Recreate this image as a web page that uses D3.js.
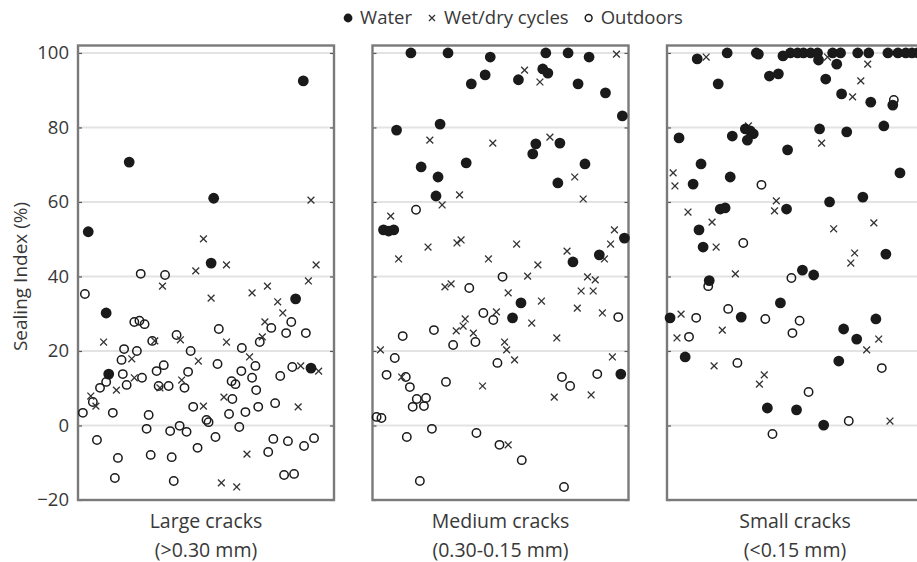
<!DOCTYPE html>
<html>
<head>
<meta charset="utf-8">
<script src="https://cdn.jsdelivr.net/npm/d3@7"></script>
<style>
  body { margin: 0; background: #fff; }
  svg text { font-family: "Open Sans", "Noto Sans", sans-serif; fill: #383838; }
</style>
</head>
<body>
<svg id="chart" width="917" height="562"></svg>
<script>
// Crack-width classes (one panel each) and their size ranges
const crackClasses = ["Large cracks", "Medium cracks", "Small cracks"];
const crackRanges = ["(>0.30 mm)", "(0.30-0.15 mm)", "(<0.15 mm)"];
const seriesNames = ["Water", "Wet/dry cycles", "Outdoors"];
const yTicks = [-20, 0, 20, 40, 60, 80, 100];

// Each specimen: [position within panel (0-100), sealing index %]
const largeWater = [[4,52],[20,70.7],[53,61],[88,92.5],[52,43.6],[11,30.2],[12,13.8],[85,34],[91,15.4]];
const largeWetDry = [[91,60.5],[49,50.1],[46,41.5],[58,43.1],[93,43.1],[90,38.8],[52,34.2],[68,35.6],[74,37.4],[78,33.2],[80,30.2],[73,27.8],[72,23.8],[58,22.4],[67,18.4],[47,17.3],[87,16],[94,14.6],[49,5.2],[57,7.6],[86,5],[66,-7.7],[56,-15.4],[62,-16.5],[33,37.4],[10,22.4],[5,7.9],[7,5.2],[21,17.9],[22,12.8],[15,9.5],[30,22.7],[40,23],[32,10.1],[40.5,12.2]];
const largeOutdoors = [[2.7,35.3],[24.5,40.7],[34,40.4],[22,27.8],[24,28.1],[26,27.2],[29,22.7],[38.5,24.3],[18,20.5],[23,20],[44,20],[17,17.6],[17.5,13.8],[25,12.8],[19,10.9],[8.6,10.1],[11,11.7],[30.7,14.6],[33.5,16.2],[43,14.4],[41.6,10.1],[31.5,10.6],[35.4,10.6],[5.8,6.3],[1.9,3.4],[13.6,3.4],[45,5],[27.6,2.8],[26.8,-0.9],[36,-1.5],[39.7,-0.1],[42.4,-1.7],[7.4,-3.9],[46.7,-6],[15.6,-8.7],[28.4,-7.9],[36.6,-8.5],[14.4,-14.1],[37.4,-14.9],[55,25.9],[75.5,26.2],[83.3,27.8],[81.3,24.8],[89,24.8],[71,22.4],[64,20.8],[54.5,16.5],[69.3,16],[63.8,14.6],[60,11.9],[61.5,11.1],[68,12.8],[69.6,9.5],[83.7,15.7],[79,13.3],[60.3,7.1],[77,6],[70.4,5],[65.4,3.6],[59,3.1],[50.2,1.5],[51,0.9],[63,-0.4],[53.7,-3.1],[76.3,-3.6],[82,-4.2],[88.3,-5.5],[92.2,-3.4],[74.3,-7.1],[80.5,-13.3],[84.4,-13]];

const mediumWater = [[15,100],[29.5,100],[46,98.9],[38.6,91.7],[44,94.1],[9.4,79.3],[26.4,80.9],[19,69.4],[36.6,70.5],[25.6,66.7],[24.8,61.6],[4.3,52.5],[6.3,52.2],[8.3,52.5],[67.7,100],[76.4,100],[84.6,98.9],[66.5,95.7],[68.5,94.6],[57,92.8],[80.3,91.7],[91,89.3],[97.6,83.1],[63.8,75.6],[62.6,72.9],[73.2,75.8],[83,70.2],[72.4,65.1],[98.4,50.3],[88.6,45.8],[78.3,43.9],[58,32.9],[54.7,28.9],[97,13.8]];
const mediumWetDry = [[22.4,76.6],[47,75.8],[34,61.9],[27.2,59.2],[7.1,56.2],[21.7,47.9],[33,49],[34.6,49.8],[10.2,44.7],[45.3,44.7],[95.3,99.7],[59.4,95.4],[65.4,92.2],[69.3,77.4],[79,66.7],[82.3,60.8],[94.5,52.5],[93,48.7],[56.3,48.7],[76,46.8],[64.6,43.1],[90.6,44.7],[60.6,40.1],[84,39.9],[87,39.1],[28.3,37.2],[30.7,38],[53,35.6],[36.2,28.6],[35.4,26.7],[32.7,25.4],[39.4,24.8],[48.4,30.5],[51.6,22.4],[52.4,20.3],[3.1,20.3],[11.4,13],[43,10.6],[81.5,36.1],[86.2,36.1],[66,33.4],[80,31.5],[62.2,27.5],[89.8,30.2],[72,23.5],[55.5,17.6],[93.7,18.4],[71,7.6],[85.4,8.2],[53,-5.2]];
const mediumOutdoors = [[17,57.9],[50.8,39.9],[37.8,36.9],[43.3,30.2],[47.2,28.3],[11.8,24],[24,25.6],[31.5,21.6],[40.2,22.4],[8.7,18.1],[48.8,16.8],[5.5,13.6],[13,13],[14.6,10.3],[28.7,11.7],[17.3,7.1],[20.9,7.4],[15.7,5],[20.1,5.2],[1.6,2.3],[3.5,2],[13.4,-3.1],[23.2,-0.9],[40.6,-2],[49.6,-5.2],[18.5,-14.9],[96,29.1],[74,13],[77.2,10.6],[87.8,13.8],[58.3,-9.3],[74.8,-16.5]];

const smallWater = [[11.8,98.4],[23.5,100],[34.9,100],[35.7,99.7],[45.3,99.2],[48.2,100],[51,100],[53.3,100],[56.1,100],[58.8,100],[59.2,98.1],[64.7,100],[67.8,100],[66.3,97],[74.5,100],[78.8,100],[86.3,100],[90.2,100],[93.3,100],[95.7,100],[98,100],[20,91.7],[40,93.8],[43.5,94.4],[62,93],[68.2,89],[79.6,86.8],[88.2,86],[4.7,77.2],[25.5,77.7],[30.6,79.6],[32.5,79.1],[33.7,78.3],[31.4,76.6],[47.1,74],[59.6,79.6],[70.2,78.8],[84.7,80.4],[13.3,70.2],[10.2,64.8],[24.7,66.7],[46.7,58.1],[20.8,58.1],[22.7,58.4],[12.5,52.5],[14.1,47.9],[16.5,38.9],[91,67.8],[63.5,60],[76.5,61.3],[85.5,46],[52.9,41.7],[57.3,40.4],[1.2,28.9],[7.1,18.4],[29,29.1],[44.3,32.9],[69,25.9],[74.1,23.2],[81.6,28.6],[67.1,17.3],[39.2,4.7],[50.6,4.2],[61.2,0.1]];
const smallWetDry = [[15.3,98.9],[31.8,80.4],[2.4,67.8],[3.1,64.3],[8.2,57.3],[17.6,54.6],[19.2,47.9],[42.7,60.3],[42,57.6],[26.7,40.7],[62.7,98.9],[78.4,97],[75.7,92.5],[72.5,88.2],[60.4,75.8],[65.1,52.8],[80.8,54.4],[73.3,46.3],[71.8,43.6],[5.5,29.9],[3.9,23.5],[21.6,25.6],[18.4,16],[38,13.6],[36.1,11.1],[82.7,23.2],[78,20.3],[87.1,1.2]];
const smallOutdoors = [[36.9,64.6],[29.8,49],[88.6,87.4],[48.6,39.6],[16.1,37.4],[11.4,28.9],[8.6,23.8],[23.9,31.3],[38.4,28.6],[51.8,28.1],[49,24.8],[27.5,16.8],[83.9,15.4],[55.3,9],[71,1.2],[41.2,-2.3]];

const panels = [
  { name: crackClasses[0], range: crackRanges[0], water: largeWater, wetdry: largeWetDry, outdoors: largeOutdoors },
  { name: crackClasses[1], range: crackRanges[1], water: mediumWater, wetdry: mediumWetDry, outdoors: mediumOutdoors },
  { name: crackClasses[2], range: crackRanges[2], water: smallWater, wetdry: smallWetDry, outdoors: smallOutdoors }
];

const svg = d3.select("#chart");
const ink = "#1a1a1a";
const frameColor = "#7a7a7a";
const gridColor = "#e3e3e3";

// Panel placement: three equal panels, the last one running past the right edge
const panelX = d3.scaleBand().domain(crackClasses).range([78, 923]).paddingInner(0.1307).paddingOuter(0);
const pw = panelX.bandwidth();
const y = d3.scaleLinear().domain([-20, 102]).range([500, 45.5]);
const x = d3.scaleLinear().domain([0, 100]).range([0, pw]);

function drawMarker(g, kind, cx, cy, legendSize) {
  if (kind === 0) {
    g.append("circle").attr("cx", cx).attr("cy", cy).attr("r", legendSize ? 4.4 : 5.4).attr("fill", ink);
  } else if (kind === 1) {
    const s = legendSize ? 3 : 3.4;
    g.append("path")
      .attr("d", `M${cx - s},${cy - s}L${cx + s},${cy + s}M${cx - s},${cy + s}L${cx + s},${cy - s}`)
      .attr("stroke", "#333").attr("stroke-width", 1.3).attr("fill", "none");
  } else {
    g.append("circle").attr("cx", cx).attr("cy", cy).attr("r", legendSize ? 3.4 : 4.2)
      .attr("fill", "none").attr("stroke", ink).attr("stroke-width", 1.5);
  }
}

// Legend: symbol, then label, items laid out left to right and centred
const legend = svg.append("g").attr("class", "legend");
const legendItems = legend.selectAll("g").data(seriesNames).join("g");
legendItems.append("text")
  .attr("x", 0).attr("dy", "0.35em")
  .attr("font-size", 18.5)
  .text(d => d);
let lx = 0;
const symW = 10, symGap = 7, itemGap = 15;
legendItems.each(function(d, i) {
  const g = d3.select(this);
  const tw = g.select("text").node().getComputedTextLength();
  g.attr("transform", `translate(${lx},0)`);
  g.select("text").attr("x", symW + symGap);
  drawMarker(g, i, symW / 2, 0, true);
  lx += symW + symGap + tw + itemGap;
});
const legendWidth = lx - itemGap;
legend.attr("transform", `translate(${513 - legendWidth / 2},18)`);

// Clip so the rightmost panel is cut at the page edge
svg.append("defs").append("clipPath").attr("id", "page")
  .append("rect").attr("x", 0).attr("y", 0).attr("width", 917).attr("height", 562);

const root = svg.append("g").attr("clip-path", "url(#page)");

panels.forEach((p, pi) => {
  const g = root.append("g").attr("transform", `translate(${panelX(p.name)},0)`);

  // horizontal gridlines
  g.append("g").selectAll("line").data(yTicks.filter(t => t > -20)).join("line")
    .attr("x1", 0).attr("x2", pw)
    .attr("y1", d => y(d)).attr("y2", d => y(d))
    .attr("stroke", gridColor).attr("stroke-width", 2);

  // inward ticks on both sides
  const left = g.append("g")
    .call(d3.axisLeft(y).tickValues(yTicks).tickSize(-4).tickPadding(9)
      .tickFormat(pi === 0 ? d3.format("d") : () => ""));
  left.select(".domain").remove();
  left.selectAll(".tick line").attr("stroke", "#555").attr("stroke-width", 1.2);
  left.selectAll(".tick text").attr("font-size", 18.5).attr("fill", "#383838")
    .attr("font-family", "\"Open Sans\", sans-serif");

  const right = g.append("g").attr("transform", `translate(${pw},0)`)
    .call(d3.axisRight(y).tickValues(yTicks).tickSize(-4).tickFormat(() => ""));
  right.select(".domain").remove();
  right.selectAll(".tick line").attr("stroke", "#555").attr("stroke-width", 1.2);

  // frame
  g.append("rect").attr("x", 0).attr("y", y(102)).attr("width", pw).attr("height", y(-20) - y(102))
    .attr("fill", "none").attr("stroke", frameColor).attr("stroke-width", 2.4);

  // points: outdoors first, then wet/dry, water on top
  const pts = g.append("g");
  p.outdoors.forEach(d => drawMarker(pts, 2, x(d[0]), y(d[1]), false));
  p.wetdry.forEach(d => drawMarker(pts, 1, x(d[0]), y(d[1]), false));
  p.water.forEach(d => drawMarker(pts, 0, x(d[0]), y(d[1]), false));

  // panel captions
  g.append("text").attr("x", pw / 2).attr("y", 528).attr("text-anchor", "middle")
    .attr("font-size", 19.5).text(p.name);
  g.append("text").attr("x", pw / 2).attr("y", 557).attr("text-anchor", "middle")
    .attr("font-size", 19.5).text(p.range);
});

// y-axis title
svg.append("text")
  .attr("transform", `translate(27,${y(40)}) rotate(-90)`)
  .attr("text-anchor", "middle")
  .attr("font-size", 19)
  .text("Sealing Index (%)");
</script>
</body>
</html>
